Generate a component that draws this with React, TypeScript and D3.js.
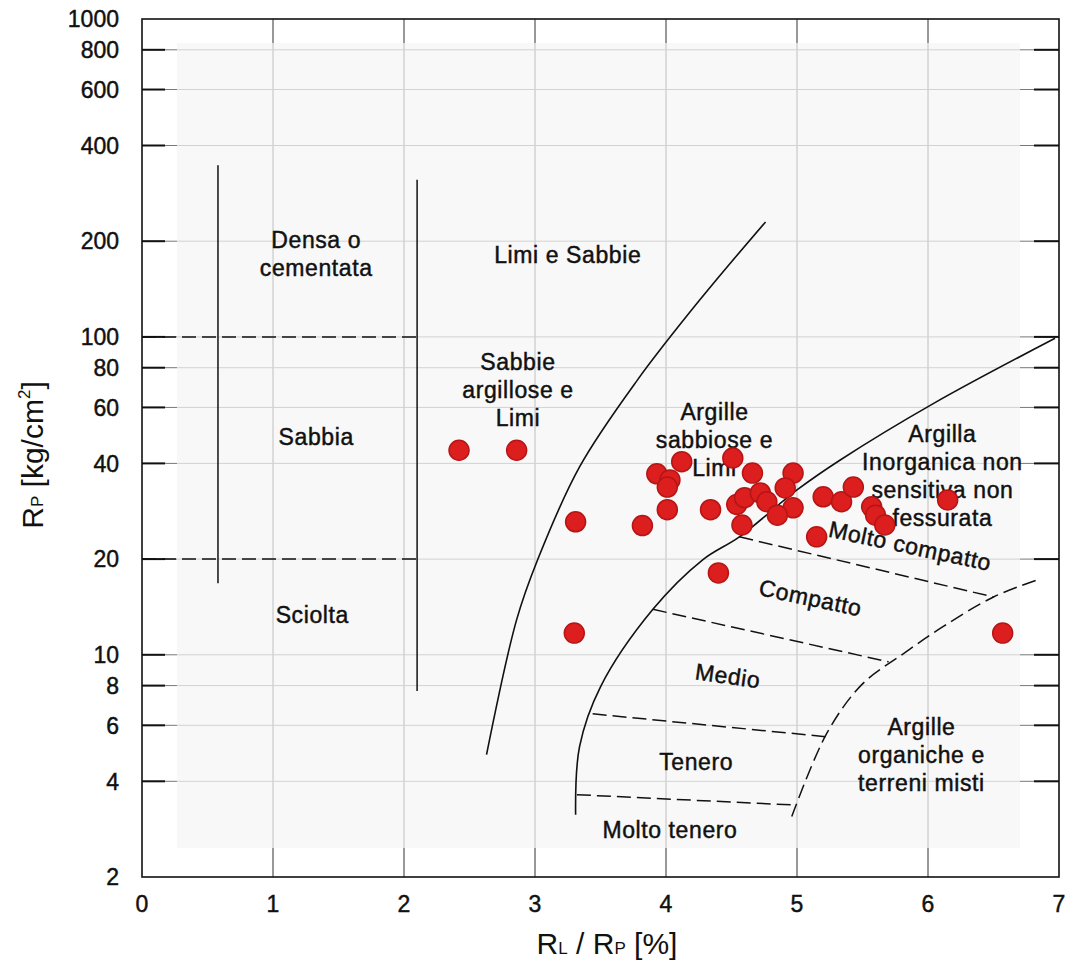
import React from 'react'
import * as d3 from 'd3'

// soil classification chart: Rl/Rp vs Rp (Schmertmann-like)
const xTicks = [0, 1, 2, 3, 4, 5, 6, 7]
const yTicks = [2, 4, 6, 8, 10, 20, 40, 60, 80, 100, 200, 400, 600, 800, 1000]

// measured points
const pointsRatio = [2.42, 2.86, 3.31, 3.30, 3.82, 3.93, 4.12, 4.03, 4.01, 4.01, 4.34, 4.51, 4.66, 4.54, 4.60, 4.72, 4.77, 4.58, 4.97, 4.91, 4.97, 4.85, 4.40, 5.20, 5.15, 5.34, 5.43, 5.57, 5.60, 5.67, 6.15, 6.57]
const pointsRp = [44, 44, 26.2, 11.7, 25.5, 37.1, 40.5, 35.5, 33.7, 28.6, 28.6, 41.6, 37.3, 29.7, 31.2, 32.3, 30.3, 25.6, 37.3, 33.5, 29.0, 27.5, 18.1, 31.4, 23.5, 30.3, 33.7, 29.2, 27.5, 25.6, 30.7, 11.7]

// boundary curves [ratio, Rp]
const curveLimi = [[2.63, 4.85], [2.86, 12.9], [3.02, 19.9], [3.34, 39], [3.78, 73], [4.26, 131], [4.76, 230]]
const curveArgille = [[3.31, 3.14], [3.34, 5.14], [3.50, 7.93], [3.90, 13.9], [4.28, 19.9], [4.56, 23.5], [5.0, 33], [5.33, 41], [6.05, 62], [6.97, 99]]
const curveOrganiche = [[4.96, 3.1], [5.23, 5.69], [5.5, 8.1], [5.8, 10.0], [6.12, 12.3], [6.5, 15.2], [6.85, 17.3]]
const consistencyLines = [
  [[4.56, 23.5], [6.5, 15.2]],
  [[3.9, 13.9], [5.7, 9.5]],
  [[3.44, 6.52], [5.23, 5.52]],
  [[3.32, 3.63], [4.97, 3.37]],
]
const verticalSplits = [[0.58, 16.8, 347], [2.1, 7.7, 312]]
const dashedSplits = [[0, 2.1, 100], [0, 2.1, 20]]

const zoneLabels = [
  { lines: ['Densa o', 'cementata'], x: 1.33, y: 190 },
  { lines: ['Limi e Sabbie'], x: 3.25, y: 171 },
  { lines: ['Sabbie', 'argillose e', 'Limi'], x: 2.87, y: 78.8 },
  { lines: ['Sabbia'], x: 1.33, y: 45.7 },
  { lines: ['Sciolta'], x: 1.3, y: 12.6 },
  { lines: ['Argille', 'sabbiose e', 'Limi'], x: 4.37, y: 54.8 },
  { lines: ['Argilla', 'Inorganica non', 'sensitiva non', 'fessurata'], x: 6.11, y: 46.8 },
  { lines: ['Argille', 'organiche e', 'terreni misti'], x: 5.95, y: 5.6 },
  { lines: ['Tenero'], x: 4.23, y: 4.35 },
  { lines: ['Molto tenero'], x: 4.03, y: 2.66 },
]
const slantLabels = [
  { text: 'Molto compatto', x: 5.86, y: 21.7, angle: 12 },
  { text: 'Compatto', x: 5.1, y: 14.9, angle: 12 },
  { text: 'Medio', x: 4.47, y: 8.47, angle: 8 },
]

const W = 1072
const H = 977
const left = 142
const right = 1059
const top = 19
const bottom = 877
const font = 'Liberation Sans, Arial, sans-serif'
const ink = '#111'

export default function App() {
  const x = d3.scaleLinear().domain([0, 7]).range([left, right])
  const y = d3.scaleLog().domain([2, 1000]).range([bottom, top])
  const path = d3.line<number[]>()
    .x(d => x(d[0]))
    .y(d => y(d[1]))
    .curve(d3.curveCatmullRom.alpha(0.5))
  const straight = d3.line<number[]>().x(d => x(d[0])).y(d => y(d[1]))

  const inner = yTicks.filter(t => t !== 2 && t !== 1000)
  // scanned text looks heavier than plain regular
  const heavy = { stroke: ink, strokeWidth: 0.45, fill: ink }

  return (
    <svg width={W} height={H} style={{ position: 'absolute', left: 0, top: 0, background: '#fff' }} fontFamily={font}>
      {/* grid */}
      {xTicks.slice(1, -1).map(t => (
        <line key={'vx' + t} x1={x(t)} x2={x(t)} y1={top} y2={bottom} stroke="#333" strokeWidth={1} />
      ))}
      {inner.map(t => (
        <line key={'hy' + t} x1={left} x2={right} y1={y(t)} y2={y(t)} stroke="#777" strokeWidth={1} />
      ))}
      <rect x={177} y={43} width={843} height={805} fill="#f5f5f5" opacity={0.72} />

      {/* ticks */}
      {inner.map(t => (
        <g key={'tk' + t}>
          <line x1={left} x2={left + 23} y1={y(t)} y2={y(t)} stroke={ink} strokeWidth={2} />
          <line x1={right - 25} x2={right} y1={y(t)} y2={y(t)} stroke={ink} strokeWidth={2} />
        </g>
      ))}
      <rect x={left} y={top} width={right - left} height={bottom - top} fill="none" stroke={ink} strokeWidth={1.6} />

      {/* zone boundaries */}
      {verticalSplits.map((v, i) => (
        <line key={'vs' + i} x1={x(v[0])} x2={x(v[0])} y1={y(v[1])} y2={y(v[2])} stroke={ink} strokeWidth={1.5} />
      ))}
      {dashedSplits.map((d, i) => (
        <line key={'ds' + i} x1={x(d[0])} x2={x(d[1])} y1={y(d[2])} y2={y(d[2])} stroke={ink} strokeWidth={1.5} strokeDasharray="14 6" />
      ))}
      <path d={path(curveLimi) || ''} fill="none" stroke={ink} strokeWidth={1.6} />
      <path d={path(curveArgille) || ''} fill="none" stroke={ink} strokeWidth={1.6} />
      <path d={path(curveOrganiche) || ''} fill="none" stroke={ink} strokeWidth={1.5} strokeDasharray="14 6" />
      {consistencyLines.map((l, i) => (
        <path key={'cl' + i} d={straight(l) || ''} fill="none" stroke={ink} strokeWidth={1.5} strokeDasharray="14 6" />
      ))}

      {/* zone labels */}
      {zoneLabels.map((z, i) => (
        <text key={'zl' + i} x={x(z.x)} y={y(z.y)} textAnchor="middle" fontSize={23} letterSpacing={0.6} {...heavy}>
          {z.lines.map((s, j) => (
            <tspan key={j} x={x(z.x)} dy={j === 0 ? 0 : 28}>{s}</tspan>
          ))}
        </text>
      ))}
      {slantLabels.map((s, i) => (
        <text key={'sl' + i} transform={`translate(${x(s.x)},${y(s.y)}) rotate(${s.angle})`} textAnchor="middle"
          dominantBaseline="middle" fontSize={23} letterSpacing={0.6} {...heavy}>{s.text}</text>
      ))}

      {/* data */}
      {pointsRatio.map((r, i) => (
        <circle key={'p' + i} cx={x(r)} cy={y(pointsRp[i])} r={10} fill="#dc1e1e" stroke="#b51515" strokeWidth={1.5} />
      ))}

      {/* axis labels */}
      {yTicks.map(t => (
        <text key={'yl' + t} x={119} y={y(t)} dy="0.36em" textAnchor="end" fontSize={23} {...heavy}>{t}</text>
      ))}
      {xTicks.map(t => (
        <text key={'xl' + t} x={x(t)} y={912} textAnchor="middle" fontSize={23} {...heavy}>{t}</text>
      ))}
      <text x={607} y={954} textAnchor="middle" fontSize={30} fill={ink}>
        R<tspan fontSize={17}>L</tspan> / R<tspan fontSize={17}>P</tspan> [%]
      </text>
      <text transform="translate(43,455) rotate(-90)" textAnchor="middle" fontSize={30} fill={ink}>
        R<tspan fontSize={17}>P</tspan> [kg/cm<tspan fontSize={17} dy={-13}>2</tspan><tspan dy={13}>]</tspan>
      </text>
    </svg>
  )
}
